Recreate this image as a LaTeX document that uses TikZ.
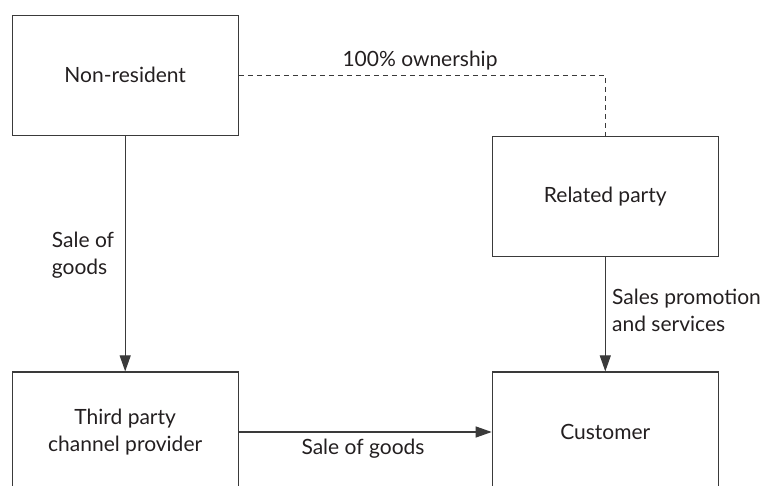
\documentclass[tikz,border=0pt]{standalone}
\usepackage{fontspec}
\setmainfont{Lato}
\usetikzlibrary{arrows.meta}
\definecolor{ink}{HTML}{231F20}
\definecolor{rule}{HTML}{3A3A3A}
\tikzset{
  entity/.style={draw=rule, line width=1.2pt, minimum width=226pt, minimum height=120pt,
    align=center, text=ink, font=\fontsize{21}{27}\selectfont, inner sep=0pt},
  flow/.style={draw=rule, line width=1.2pt, -{Triangle[length=16pt,width=11pt]}},
  link/.style={draw=rule, line width=1.1pt, dash pattern=on 5pt off 4pt},
  note/.style={text=ink, font=\fontsize{21}{27}\selectfont, inner sep=0pt}
}
\begin{document}
\begin{tikzpicture}[x=1pt, y=-1pt]
  \useasboundingbox (0,0) rectangle (772,486);
  \clip (0,0) rectangle (772,486);

  % the four parties
  \node[entity] (nonres)   at (125.2, 75.3)  {Non-resident};
  \node[entity] (related)  at (605.3, 196.4) {Related party};
  \node[entity] (third)    at (125.2, 432) {Third party\\channel provider};
  \node[entity] (customer) at (605.3, 432) {Customer};

  % ownership link
  \coordinate (corner) at (related.north |- nonres.east);
  \draw[link] (nonres.east) -- (corner) -- (related.north);
  \node[note, anchor=base] (own) at (420, 67) {100\% ownership};

  % flows of goods and services
  \draw[flow] (nonres.south) -- (third.north);
  \draw[flow] (related.south) -- (customer.north);
  \draw[flow] (third.east) -- (customer.west);

  \node[note, anchor=base west, align=left] (sale1) at (51.7, 275) {Sale of\\goods};
  \node[note, anchor=base] (sale2) at (363, 455) {Sale of goods};
  \node[note, anchor=base west, align=left] (promo) at (612, 332) {Sales promotion\\and services};
\end{tikzpicture}
\end{document}
